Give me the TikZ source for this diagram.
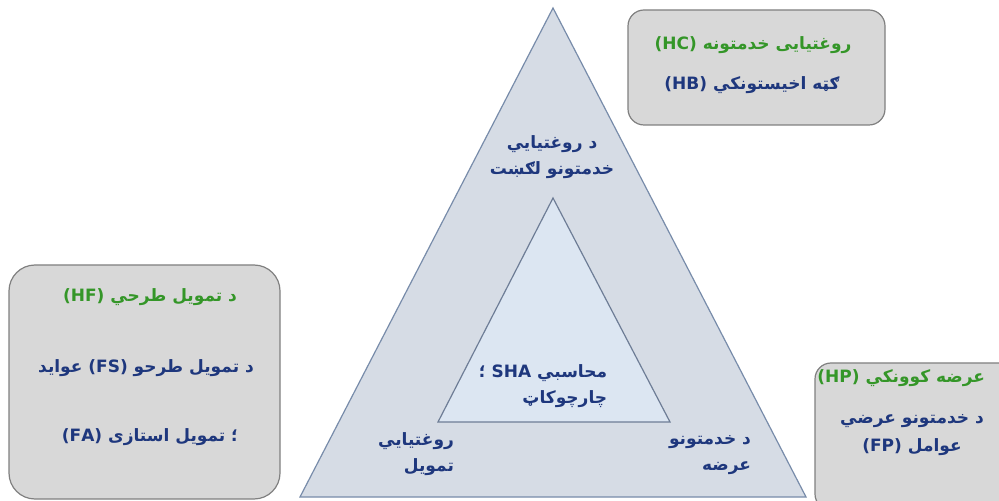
\documentclass[tikz,border=0pt]{standalone}
\usepackage{fontspec}
\newfontfamily\pashto[Script=Arabic]{DejaVu Sans}
\TeXXeTstate=1

\definecolor{panelfill}{RGB}{216,216,216}
\definecolor{paneledge}{RGB}{128,128,128}
\definecolor{outerfill}{RGB}{214,220,229}
\definecolor{outeredge}{RGB}{120,140,170}
\definecolor{innerfill}{RGB}{220,230,242}
\definecolor{inneredge}{RGB}{110,125,150}
\definecolor{headgreen}{RGB}{52,150,40}
\definecolor{textblue}{RGB}{30,55,125}

\tikzset{
  panel/.style={draw=paneledge,fill=panelfill,line width=0.6pt},
  head/.style={text=headgreen,font=\pashto\bfseries\fontsize{8.5}{10}\selectfont,inner sep=0pt},
  body/.style={text=textblue,font=\pashto\bfseries\fontsize{8.5}{13}\selectfont,inner sep=0pt,align=right}
}

\begin{document}
\begin{tikzpicture}[x=0.5pt,y=-0.5pt]
        \useasboundingbox (0,0) rectangle (999,501);
        \clip (0,0) rectangle (999,501);

	\def \ax {553}
	\def \ay {8}
	\def \by {497}

        % outer and inner triangle
        \draw[outeredge,fill=outerfill,line width=0.6pt] (\ax,\ay) -- (300,\by) -- (806,\by) -- cycle;
        \draw[inneredge,fill=innerfill,line width=0.6pt] (\ax,198) -- (438,422) -- (670,422) -- cycle;

        % the three panels
        \draw[panel,rounded corners=8pt] (628,10) rectangle (885,125);
        \draw[panel,rounded corners=13pt] (9,265) rectangle (280,499);
        \draw[panel,rounded corners=8pt] (815,363) rectangle (1030,510);

        % top panel
	\node[head] (hc) at (753,45) {\beginR روغتیایی خدمتونه \beginL(HC)\endL\endR};
	\node[body] (hb) at (752,85) {\beginR ګټه اخیستونکي \beginL(HB)\endL\endR};

        % left panel
	\node[head] (hf) at (150,297) {\beginR د تمویل طرحي \beginL(HF)\endL\endR};
	\node[body] (fs) at (146,368) {\beginR د تمویل طرحو \beginL(FS)\endL{} عواید\endR};
	\node[body] (fa) at (150,437) {\beginR ؛ تمویل استازی \beginL(FA)\endL\endR};

        % right panel
	\node[head,anchor=west] (hp) at (817,378) {\beginR عرضه کوونکي \beginL(HP)\endL\endR};
	\node[body,align=center,font=\pashto\bfseries\fontsize{8.5}{14}\selectfont] (fp) at (912,435) {\beginR د خدمتونو عرضي\endR\\\beginR عوامل \beginL(FP)\endL\endR};

        % corners of the triangle
	\node[body,align=center] (cost) at (552,157) {\beginR د روغتیایي\endR\\\beginR خدمتونو لګښت\endR};
	\node[body] (fin) at (416,454) {\beginR روغتیایي\endR\\\beginR تمویل\endR};
	\node[body] (prov) at (710,455) {\beginR د خدمتونو\endR\\\beginR عرضه\endR};
	\node[body] (sha) at (543,386) {\beginR محاسبي \beginL SHA\endL{} ؛\endR\\\beginR چارچوکاټ\endR};

    \end{tikzpicture}
\end{document}
